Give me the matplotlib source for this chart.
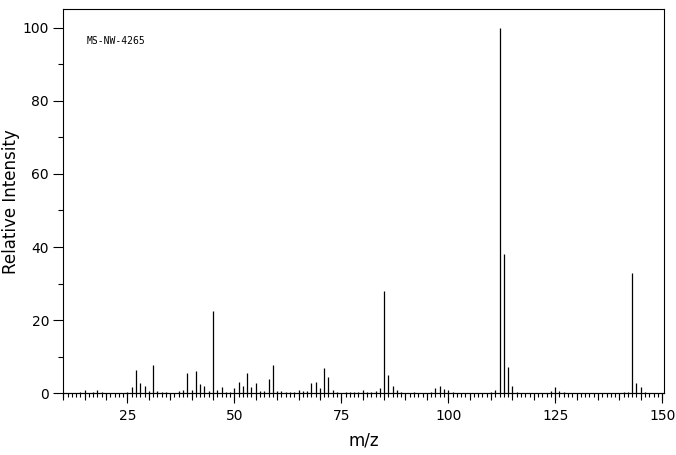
import matplotlib
matplotlib.use("Agg")
import matplotlib.pyplot as plt
import matplotlib.transforms as mtransforms
from matplotlib.ticker import MultipleLocator, FixedLocator

mz = [14, 15, 17, 18, 19, 25, 26, 27, 28, 29, 30, 31, 32, 33, 34, 37, 38, 39, 40,
      41, 42, 43, 44, 45, 46, 47, 48, 49, 50, 51, 52, 53, 54, 55, 56, 57, 58, 59,
      60, 61, 62, 63, 64, 65, 66, 67, 68, 69, 70, 71, 72, 73, 74, 76, 77, 78, 79,
      80, 81, 82, 83, 84, 85, 86, 87, 88, 89, 92, 96, 97, 98, 99, 100, 101, 110,
      111, 112, 113, 114, 115, 116, 124, 125, 126, 127, 141, 142, 143, 144, 145, 146]
intensity = [0.4, 0.9, 0.4, 0.9, 0.4, 0.4, 1.8, 6.4, 2.8, 2.1, 0.5, 7.8, 0.6, 0.4, 0.4, 0.6, 0.9, 5.6, 0.9,
             6.2, 2.6, 2.1, 0.6, 22.5, 0.9, 1.8, 0.4, 0.4, 1.5, 3.1, 2.1, 5.6, 1.8, 2.8, 0.5, 0.6, 3.9, 7.8,
             0.6, 0.6, 0.4, 0.4, 0.4, 0.9, 0.6, 0.6, 2.9, 3.1, 1.5, 6.9, 4.5, 0.9, 0.4, 0.4, 0.4, 0.4, 0.4,
             0.9, 0.4, 0.4, 0.6, 1.5, 28.0, 5.1, 2.1, 0.9, 0.4, 0.4, 0.4, 1.5, 2.1, 1.2, 0.9, 0.4, 0.4,
             0.9, 100.0, 38.1, 7.3, 2.1, 0.4, 0.6, 1.7, 0.6, 0.4, 0.4, 0.4, 32.9, 2.8, 1.7, 0.4]

x_major = [25, 50, 75, 100, 125, 150]
y_major = [0, 20, 40, 60, 80, 100]
label_text = "MS-NW-4265"

fig = plt.figure(figsize=(6.76, 4.55), dpi=100)
ax = fig.add_axes([0.0936, 0.1356, 0.8891, 0.8440])

ax.vlines(mz, 0, intensity, colors="black", linewidth=0.9)

ax.set_xlim(10, 150.5)
ax.set_ylim(0, 105)

for s in ax.spines.values():
    s.set_linewidth(0.8)
    s.set_color("black")

ax.xaxis.set_major_locator(FixedLocator(x_major))
ax.xaxis.set_minor_locator(MultipleLocator(1))
ax.yaxis.set_major_locator(FixedLocator(y_major))
ax.yaxis.set_minor_locator(MultipleLocator(10))

ax.tick_params(axis="x", which="major", direction="out", length=7.2, width=0.8,
               labelsize=10, pad=4)
ax.tick_params(axis="x", which="minor", direction="out", length=3.0, width=0.8)
ax.tick_params(axis="y", which="major", direction="out", length=7.2, width=0.8,
               labelsize=10, pad=3)
ax.tick_params(axis="y", which="minor", direction="out", length=3.6, width=0.8)

# medium ticks every 5 units
sec = ax.secondary_xaxis("bottom")
sec.xaxis.set_major_locator(MultipleLocator(5))
sec.tick_params(axis="x", which="major", direction="out", length=5.0, width=0.8,
                labelbottom=False)
sec.spines["bottom"].set_linewidth(0.8)

ax.set_xlabel("m/z", fontsize=12, labelpad=6)
ax.set_ylabel("Relative Intensity", fontsize=12)
ax.yaxis.set_label_coords(-0.072, 0.5)

trans = mtransforms.blended_transform_factory(ax.transAxes, ax.transData)
ax.text(0.039, 96.4, label_text, transform=trans,
        fontsize=7, family="DejaVu Sans Mono", ha="left", va="center")

fig.savefig("out.png", dpi=100)
